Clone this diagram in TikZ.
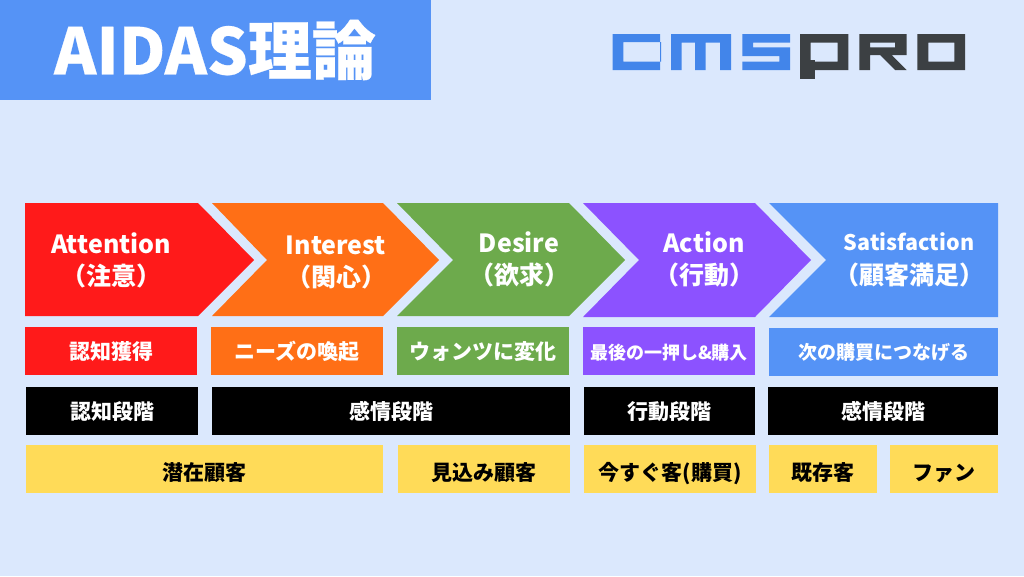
\documentclass[tikz,border=0pt]{standalone}
\usepackage{fontspec}
\setmainfont{Noto Sans CJK JP}
\definecolor{pageBlue}{HTML}{DBE8FD}
\definecolor{titleBlue}{HTML}{5593F6}
\definecolor{logoBlue}{HTML}{4285EA}
\definecolor{logoGray}{HTML}{3C4043}
\definecolor{attRed}{HTML}{FF1A1A}
\definecolor{intOrange}{HTML}{FF6F16}
\definecolor{desGreen}{HTML}{6DAA4C}
\definecolor{actPurple}{HTML}{8C52FF}
\definecolor{custYellow}{HTML}{FFDB58}
\tikzstyle{headText}=[align = center, text = white, font = \bfseries\fontsize{25}{32}\selectfont, inner sep = 0pt]
\tikzstyle{stepBox}=[minimum height = 48, inner sep = 0pt, text = white, text height = 16, text depth = 0, font = \bfseries\fontsize{21}{24}\selectfont]
\tikzstyle{stageBox}=[stepBox, fill = black, text height = 18]
\tikzstyle{custBox}=[stepBox, fill = custYellow, text = black, text height = 22]

\begin{document}
\begin{tikzpicture}[x = 1pt, y = -1pt]
\useasboundingbox (0,0) rectangle (1024,576);
\fill[pageBlue] (0,0) rectangle (1024,576);
% title
\node[fill = titleBlue, minimum width = 431, minimum height = 100, inner sep = 0pt] (titleBar) at (215.5,50) {};
\node[text = white, font = \bfseries\fontsize{64}{64}\selectfont\addfontfeatures{FakeBold=0.4}, inner sep = 0pt] (titleText) at (215,50) {AIDAS理論};
% logo
\fill[logoBlue, even odd rule] (612.7,34) rectangle (660,70) (623.3,42) rectangle (661,61.7);
\fill[logoBlue] (671,34) rectangle (731,42.7) (671,34) rectangle (681.7,70) (695,34) rectangle (705.7,70) (720,34) rectangle (731,70);
\fill[logoBlue] (742.3,34) rectangle (790,42.7) (742.3,34) rectangle (753,53.3) (742.3,47.3) rectangle (790,56) (779.3,47.3) rectangle (790,70) (742.3,61.7) rectangle (790,70);
\fill[logoGray, even odd rule] (800,34) rectangle (848.3,70) (810.7,42.7) rectangle (837.7,61.7);
\fill[logoGray] (800,60) rectangle (815,79.3);
\fill[logoGray, even odd rule] (859.3,34) -- (906.7,34) -- (906.7,55) -- (891.7,55) -- (906.7,70) -- (895,70) -- (880,55) -- (870,55) -- (870,70) -- (859.3,70) -- cycle (870,42.7) rectangle (895,47.3);
\fill[logoGray, even odd rule] (917.3,34) rectangle (965,70) (928.3,42.7) rectangle (954.3,61.7);
% arrows
\fill[attRed] (25,203) -- (198,203) -- (254,260) -- (198,316) -- (25,316) -- cycle;
\fill[intOrange] (212,203) -- (383,203) -- (439,260) -- (383,316) -- (212,316) -- (267,260) -- cycle;
\fill[desGreen] (397,203) -- (569,203) -- (625,260) -- (569,316) -- (397,316) -- (453,260) -- cycle;
\fill[actPurple] (583,203) -- (755,203) -- (811,260) -- (755,317) -- (583,317) -- (639,260) -- cycle;
\fill[titleBlue] (769,203) -- (998,203) -- (998,317) -- (769,317) -- (826,260) -- cycle;
\node[headText] (attText) at (111,260) {Attention\\（注意）};
\node[headText] (intText) at (336,262) {Interest\\（関心）};
\node[headText] (desText) at (519,259) {Desire\\（欲求）};
\node[headText] (actText) at (704,259) {Action\\（行動）};
\node[headText, font = \bfseries\fontsize{21.5}{34}\selectfont] (satText) at (909,260) {Satisfaction\\\fontsize{25}{34}\selectfont（顧客満足）};
% what happens at each step
\node[stepBox, fill = attRed, minimum width = 172] (stepA) at (111,351) {認知獲得};
\node[stepBox, fill = intOrange, minimum width = 172] (stepB) at (297,351) {ニーズの喚起};
\node[stepBox, fill = desGreen, minimum width = 172] (stepC) at (483,351) {ウォンツに変化};
\node[stepBox, fill = actPurple, minimum width = 172, font = \bfseries\fontsize{18}{20}\selectfont] (stepD) at (669,351) {最後の一押し\&購入};
\node[stepBox, fill = titleBlue, minimum width = 229, text height = 14, font = \bfseries\fontsize{19}{20}\selectfont] (stepE) at (883.5,352) {次の購買につなげる};
% stages
\node[stageBox, minimum width = 172] (stageA) at (112,410.5) {認知段階};
\node[stageBox, minimum width = 358] (stageB) at (391,410.5) {感情段階};
\node[stageBox, minimum width = 171] (stageC) at (669.5,410.5) {行動段階};
\node[stageBox, minimum width = 230] (stageD) at (883,410.5) {感情段階};
% customers
\node[custBox, minimum width = 357] (custA) at (204.5,469) {潜在顧客};
\node[custBox, minimum width = 172] (custB) at (484,469) {見込み顧客};
\node[custBox, minimum width = 172] (custC) at (670,469) {今すぐ客(購買)};
\node[custBox, minimum width = 108] (custD) at (823,469) {既存客};
\node[custBox, minimum width = 108] (custE) at (944,469) {ファン};
\end{tikzpicture}
\end{document}
